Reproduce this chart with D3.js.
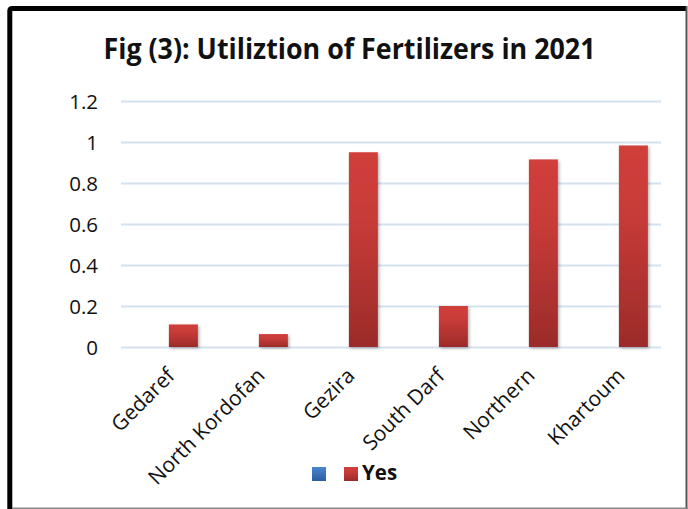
<!DOCTYPE html>
<html>
<head>
<meta charset="utf-8">
<script src="https://cdn.jsdelivr.net/npm/d3@7"></script>
<style>
  html, body { margin: 0; padding: 0; background: #fff; }
  svg { display: block; }
</style>
</head>
<body>
<div id="chart"></div>
<script>
// ---- data ----
const title = "Fig (3): Utiliztion of Fertilizers in 2021";
const categories = ["Gedaref", "North Kordofan", "Gezira", "South Darf", "Northern", "Khartoum"];
const seriesNames = ["", "Yes"];
const seriesBlank = [null, null, null, null, null, null];
const seriesYes = [0.11, 0.063, 0.95, 0.2, 0.915, 0.983];
const yTickValues = [0, 0.2, 0.4, 0.6, 0.8, 1, 1.2];
const yTickLabels = ["0", "0.2", "0.4", "0.6", "0.8", "1", "1.2"];

const W = 688, H = 509;
const svg = d3.select("#chart").append("svg").attr("width", W).attr("height", H);

const defs = svg.append("defs");
const gRed = defs.append("linearGradient").attr("id", "gRed").attr("x1", 0).attr("y1", 0).attr("x2", 0).attr("y2", 1);
gRed.append("stop").attr("offset", "0%").attr("stop-color", "#d13f3b");
gRed.append("stop").attr("offset", "35%").attr("stop-color", "#c73b38");
gRed.append("stop").attr("offset", "100%").attr("stop-color", "#9b2b29");
const gBlue = defs.append("linearGradient").attr("id", "gBlue").attr("x1", 0).attr("y1", 0).attr("x2", 0).attr("y2", 1);
gBlue.append("stop").attr("offset", "0%").attr("stop-color", "#4a86d0");
gBlue.append("stop").attr("offset", "100%").attr("stop-color", "#2c5d9e");
const shadow = defs.append("filter").attr("id", "shadow").attr("x", "-30%").attr("y", "-10%").attr("width", "160%").attr("height", "130%");
shadow.append("feDropShadow").attr("dx", 1.5).attr("dy", 1.5).attr("stdDeviation", 1.8).attr("flood-color", "#000").attr("flood-opacity", 0.28);

// ---- frame ----
svg.append("path").attr("d", "M9.8,509 V11 Q9.8,8.5 12.3,8.5 H686")
  .attr("fill", "none").attr("stroke", "#000").attr("stroke-width", 5);
svg.append("line").attr("x1", 686.5).attr("x2", 686.5).attr("y1", 6).attr("y2", 509)
  .attr("stroke", "#555").attr("stroke-width", 2);
svg.append("line").attr("x1", 12).attr("x2", 688).attr("y1", 508.2).attr("y2", 508.2)
  .attr("stroke", "#888").attr("stroke-width", 1.6);

// ---- title ----
svg.append("text").attr("x", 103.5).attr("y", 58.5)
  .attr("font-family", "'Open Sans', sans-serif").attr("font-weight", "bold")
  .attr("font-size", 28.5).attr("fill", "#111")
  .attr("textLength", 492).attr("lengthAdjust", "spacingAndGlyphs")
  .text(title);

// ---- scales ----
const x = d3.scaleBand().domain(categories).range([121, 661]).paddingInner(0).paddingOuter(0);
const xs = d3.scaleBand().domain(seriesNames).range([0, x.bandwidth()])
  .paddingInner(0).paddingOuter(32 / 58).align(0.59);
const y = d3.scaleLinear().domain([0, 1.2]).range([347, 101]);

// gridlines
const grid = svg.append("g").attr("class", "grid")
  .attr("transform", "translate(121,0)")
  .call(d3.axisLeft(y).tickValues(yTickValues).tickSize(-540).tickFormat(""));
grid.select(".domain").remove();
grid.selectAll("line").attr("stroke", "#d6e1f0").attr("stroke-width", 1.8);

// y axis labels
const yAxis = svg.append("g").attr("transform", "translate(98,0)")
  .call(d3.axisLeft(y).tickValues(yTickValues).tickSize(0).tickPadding(0)
    .tickFormat((d, i) => yTickLabels[i]));
yAxis.select(".domain").remove();
yAxis.selectAll("text").attr("font-family", "'Open Sans', sans-serif")
  .attr("font-size", 20.5).attr("fill", "#111").attr("dy", "0.35em");

// bars
const seriesData = [seriesBlank, seriesYes];
const fills = ["url(#gBlue)", "url(#gRed)"];
seriesNames.forEach((s, si) => {
  svg.append("g").selectAll("rect")
    .data(categories.map((c, i) => ({ c, v: seriesData[si][i] })).filter(d => d.v != null))
    .join("rect")
    .attr("x", d => x(d.c) + xs(s))
    .attr("width", xs.bandwidth())
    .attr("y", d => y(d.v))
    .attr("height", d => y(0) - y(d.v))
    .attr("fill", fills[si])
    .attr("filter", "url(#shadow)");
});

// x axis labels
const xAxis = svg.append("g").attr("transform", "translate(0,347)")
  .call(d3.axisBottom(x).tickSize(0).tickPadding(0));
xAxis.select(".domain").remove();
xAxis.selectAll("text")
  .attr("font-family", "'Open Sans', sans-serif").attr("font-size", 21).attr("fill", "#111")
  .attr("text-anchor", "end").attr("x", 0).attr("y", 0).attr("dy", 0)
  .attr("transform", "translate(10,30) rotate(-45)");

// legend
const lg = svg.append("g");
lg.append("rect").attr("x", 312).attr("y", 467).attr("width", 14).attr("height", 14).attr("fill", "url(#gBlue)");
lg.append("rect").attr("x", 344).attr("y", 467).attr("width", 14).attr("height", 14).attr("fill", "url(#gRed)");
lg.append("text").attr("x", 362).attr("y", 480)
  .attr("font-family", "'Open Sans', sans-serif").attr("font-weight", "bold")
  .attr("font-size", 20.5).attr("fill", "#111").text(seriesNames[1]);
</script>
</body>
</html>
